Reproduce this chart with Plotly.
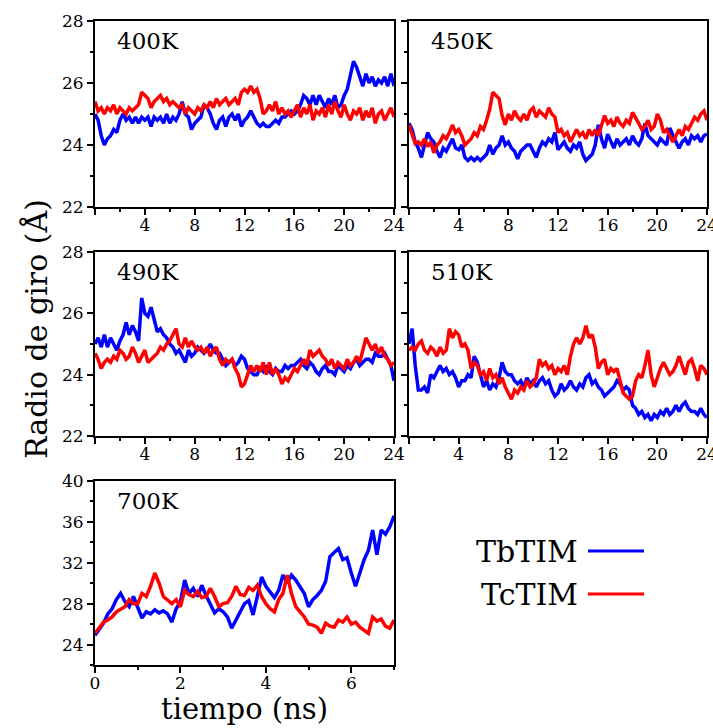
import numpy as np
import plotly.graph_objects as go

# ---------------- data ----------------
time_24 = np.arange(97) * 0.25   # ns, sampling grid for 400K-510K runs
time_7 = np.arange(71) * 0.1     # ns, sampling grid for 700K run

tb_400 = [25.0, 24.8, 24.3, 24.0, 24.2, 24.3, 24.5, 24.4, 24.8, 25.0, 24.8, 24.9,
          24.7, 24.9, 24.7, 24.9, 24.8, 24.9, 24.6, 24.9, 24.8, 24.9, 24.7, 25.0,
          24.7, 24.9, 24.8, 25.0, 25.4, 25.0, 24.9, 24.5, 24.7, 24.8, 24.9, 25.3,
          25.2, 25.0, 24.7, 24.5, 24.8, 24.9, 24.6, 24.9, 25.0, 24.8, 25.0, 24.6,
          24.8, 24.9, 25.1, 24.9, 24.7, 24.6, 24.7, 24.6, 24.6, 24.7, 24.8, 24.7,
          24.9, 24.9, 25.0, 25.1, 25.0, 25.1, 25.3, 25.6, 25.5, 25.3, 25.6, 25.3,
          25.6, 25.4, 25.2, 25.5, 25.3, 25.6, 25.2, 25.3, 25.6, 25.8, 26.3, 26.7,
          26.5, 26.2, 25.9, 26.3, 26.0, 26.2, 25.9, 26.1, 26.0, 26.2, 25.9, 26.3, 25.9]
tc_400 = [25.4, 25.1, 25.2, 25.0, 25.2, 25.1, 25.3, 25.0, 25.2, 25.1, 25.0, 25.2,
          25.1, 25.2, 25.3, 25.7, 25.6, 25.5, 25.2, 25.4, 25.5, 25.6, 25.4, 25.5,
          25.3, 25.4, 25.3, 25.2, 25.3, 25.0, 25.2, 25.1, 25.0, 25.2, 25.1, 25.3,
          25.2, 25.4, 25.2, 25.5, 25.3, 25.4, 25.5, 25.3, 25.4, 25.5, 25.3, 25.7,
          25.8, 25.7, 25.9, 25.7, 25.8, 25.5, 25.0, 25.1, 25.3, 25.1, 25.4, 25.0,
          25.2, 25.0, 25.1, 24.9, 25.1, 25.3, 24.9, 25.2, 25.0, 25.3, 24.8, 25.1,
          25.0, 25.2, 24.9, 25.3, 25.0, 25.4, 25.1, 24.9, 25.3, 25.0, 24.8, 25.1,
          25.0, 25.2, 24.8, 25.1, 24.9, 25.2, 24.7, 25.0, 25.1, 24.8, 25.0, 25.2, 24.9]

tb_450 = [24.7, 24.5, 24.1, 23.9, 23.6, 24.0, 24.4, 24.2, 24.1, 23.8, 23.6, 23.9,
          23.8, 24.0, 24.2, 23.9, 23.85, 24.0, 23.6, 23.5, 23.6, 23.5, 23.6, 23.5,
          23.6, 23.7, 24.0, 23.7, 23.9, 24.0, 24.3, 24.0, 24.1, 23.9, 23.8, 23.55,
          23.8, 23.9, 24.0, 24.0, 23.8, 23.6, 23.9, 24.1, 24.0, 24.2, 24.1, 24.4,
          23.85, 24.0, 24.1, 23.9, 23.8, 24.0, 23.9, 24.1, 23.7, 23.5, 23.6, 23.7,
          24.0, 24.65, 24.2, 23.9, 24.35, 24.1, 23.9, 24.2, 24.0, 24.1, 24.2, 24.0,
          24.3, 24.1, 24.0, 24.2, 24.7, 24.3, 24.2, 24.1, 24.0, 24.2, 24.1, 24.0,
          24.55, 24.3, 24.1, 23.9, 24.1, 24.2, 24.0, 24.3, 24.2, 24.3, 24.1, 24.3, 24.35]
tc_450 = [24.65, 24.3, 24.05, 24.1, 24.0, 24.2, 23.95, 24.1, 23.75, 24.0, 24.1, 24.3,
          24.2, 24.4, 24.65, 24.4, 24.5, 24.3, 24.0, 24.1, 24.2, 24.4, 24.3, 24.6,
          24.5, 24.8, 25.15, 25.7, 25.6, 25.5, 24.95, 24.65, 25.0, 24.8, 25.1, 24.9,
          24.8, 25.0, 24.8, 25.1, 25.2, 24.9, 25.1, 25.0, 24.9, 25.2, 25.0, 24.9,
          24.4, 24.5, 24.3, 24.4, 24.1, 24.3, 24.5, 24.3, 24.4, 24.2, 24.5, 24.3,
          24.5, 24.3, 24.6, 24.95, 24.7, 24.8, 24.6, 24.9, 24.7, 24.6, 24.8, 24.7,
          25.05, 24.9, 24.7, 24.5, 24.6, 24.8, 24.5, 24.6, 25.0, 24.8, 24.4, 24.5,
          24.3, 24.1, 24.3, 24.5, 24.3, 24.6, 24.5, 24.7, 24.9, 24.8, 25.0, 25.1, 24.8]

tb_490 = [25.0, 25.2, 24.9, 25.3, 24.9, 25.2, 25.0, 24.8, 25.1, 25.3, 25.7, 25.3,
          25.6, 25.4, 25.1, 26.5, 26.0, 25.9, 26.2, 25.8, 25.4, 25.5, 25.3, 25.2,
          25.0, 24.9, 24.7, 24.8, 24.6, 24.4, 24.8, 24.6, 24.7, 24.9, 24.8, 24.7,
          24.8, 25.0, 24.8, 24.7, 24.7, 24.5, 24.3, 24.4, 24.5, 24.3, 24.4, 24.6,
          24.5, 24.2, 24.1, 24.0, 24.0, 24.2, 24.1, 24.3, 24.1, 24.0, 24.2, 24.1,
          24.1, 24.3, 24.2, 24.3, 24.3, 24.4, 24.5, 24.3, 24.2, 24.4, 24.3, 24.1,
          24.0, 24.2, 24.3, 24.1, 24.1, 24.0, 24.3, 24.2, 24.1, 24.3, 24.2, 24.4,
          24.5, 24.3, 24.4, 24.5, 24.5, 24.4, 24.7, 24.6, 24.6, 24.7, 24.5, 24.3, 23.8]
tc_490 = [24.7, 24.5, 24.2, 24.4, 24.5, 24.4, 24.6, 24.5, 24.8, 24.7, 24.5, 24.6,
          24.9, 24.7, 24.4, 24.6, 24.8, 24.4, 24.5, 24.6, 24.7, 24.9, 24.8, 25.0,
          25.1, 25.3, 25.5, 25.0, 24.9, 25.2, 24.9, 25.1, 24.9, 24.8, 24.9, 24.7,
          24.9, 24.6, 24.8, 24.9, 24.5, 24.3, 24.5, 24.4, 24.5, 24.2, 24.0, 23.6,
          23.7, 24.0, 24.3, 24.1, 24.3, 24.1, 24.4, 24.0, 24.4, 24.0, 24.2, 24.0,
          23.7, 23.9, 23.8, 24.0, 24.2, 24.1, 24.3, 24.5, 24.3, 24.8, 24.6, 24.7,
          24.8, 24.6, 24.5, 24.3, 24.5, 24.2, 24.4, 24.3, 24.2, 24.5, 24.3, 24.4,
          24.6, 24.4, 24.8, 25.2, 25.0, 24.8, 25.0, 24.7, 24.9, 24.6, 24.5, 24.3, 24.4]

tb_510 = [25.0, 25.5, 24.3, 23.5, 23.5, 23.6, 23.4, 24.0, 23.9, 24.1, 24.3, 24.1,
          24.2, 24.0, 24.1, 23.9, 23.6, 23.8, 23.8, 24.0, 23.9, 24.6, 24.4, 24.0,
          23.6, 23.8, 23.5, 23.7, 23.6, 23.9, 24.4, 24.1, 24.0, 24.0, 23.8, 23.7,
          23.8, 23.6, 23.9, 23.7, 23.8, 23.6, 23.8, 23.9, 23.7, 23.8, 23.5, 23.3,
          23.4, 23.7, 23.5, 23.6, 23.8, 23.6, 23.5, 23.7, 23.6, 23.9, 24.0, 23.7,
          23.8, 23.6, 23.5, 23.3, 23.4, 23.5, 23.6, 23.8, 23.7, 23.5, 23.6, 23.5,
          23.0, 22.9, 22.7, 22.8, 22.6, 22.7, 22.5, 22.7, 22.6, 22.8, 22.7, 22.9,
          22.7, 22.8, 23.0, 22.8, 23.0, 23.1, 22.9, 22.8, 22.8, 22.7, 22.9, 22.7, 22.6]
tc_510 = [24.8, 24.9, 24.8, 25.0, 25.1, 24.8, 24.7, 24.9, 24.8, 24.6, 24.9, 24.7,
          24.8, 25.5, 25.2, 25.4, 25.3, 24.9, 25.0, 24.8, 24.2, 24.4, 24.3, 24.0,
          24.1, 23.8, 24.2, 23.9, 24.0, 23.7, 23.9, 23.6, 23.4, 23.2, 23.5, 23.4,
          23.6, 23.5, 23.8, 23.6, 23.7, 23.9, 24.5, 24.3, 24.4, 24.2, 24.3, 24.0,
          24.2, 24.1, 24.3, 24.0, 24.6, 25.0, 25.2, 25.0, 25.2, 25.6, 25.2, 25.3,
          24.9, 24.2, 24.4, 24.5, 24.0, 24.2, 24.1, 24.2, 23.8, 23.4, 23.3, 23.2,
          23.3, 23.8, 24.0, 23.9, 24.3, 24.8, 24.0, 23.6, 23.9, 24.2, 24.4, 24.2,
          24.0, 24.1, 24.3, 24.6, 24.3, 24.0, 24.4, 24.5, 24.2, 23.8, 24.3, 24.2, 24.0]

tb_700 = [24.9, 25.5, 26.1, 27.0, 27.5, 28.4, 29.0, 28.2, 27.7, 28.7,
          27.7, 26.6, 27.2, 27.0, 27.4, 27.1, 27.3, 27.0, 26.2, 27.5,
          28.2, 30.3, 29.0, 29.5, 28.7, 29.8, 28.8, 28.0, 27.1, 27.5,
          27.2, 26.7, 25.6, 26.4, 27.3, 28.0, 28.3, 26.9, 28.7, 30.6,
          29.7, 29.2, 28.6, 29.3, 30.8, 30.0, 30.8, 30.3, 29.6, 29.0,
          27.7, 28.4, 28.8, 29.3, 30.2, 32.6, 33.0, 33.4, 32.3, 32.5,
          31.0, 29.7, 31.0, 32.3, 33.2, 35.2, 32.8, 35.2, 34.8, 35.5, 36.6]
tc_700 = [25.1, 25.7, 26.2, 26.4, 26.7, 27.2, 27.5, 27.7, 28.4, 28.0,
          28.0, 29.0, 28.7, 29.7, 31.0, 30.0, 28.7, 28.3, 28.0, 28.4,
          27.7, 29.3, 28.9, 28.7, 29.2, 28.6, 28.7, 29.5, 28.7, 27.7,
          28.0, 28.1, 28.7, 29.7, 28.9, 28.8, 29.6, 29.3, 29.8, 28.7,
          28.0, 27.5, 27.2, 28.4, 29.0, 30.8, 29.0, 27.7, 27.2, 26.7,
          26.0, 25.9, 25.7, 25.1, 26.1, 25.8, 25.7, 26.4, 26.2, 26.7,
          26.0, 26.2, 25.7, 25.4, 25.1, 26.7, 26.3, 26.5, 25.8, 25.6, 26.4]

panel_labels = ["400K", "450K", "490K", "510K", "700K"]
series_names = ["TbTIM", "TcTIM"]
x_ticks_24 = [0, 4, 8, 12, 16, 20, 24]
x_ticktext_24 = ["", "4", "8", "12", "16", "20", "24"]
x_minor_24 = [2, 6, 10, 14, 18, 22]
x_ticks_7 = [0, 2, 4, 6]
x_minor_7 = [1, 3, 5, 7]
y_ticks_small = [22, 24, 26, 28]
y_minor_small = [23, 25, 27]
y_ticks_700 = [24, 28, 32, 36, 40]
y_minor_700 = [22, 26, 30, 34, 38]

# ---------------- layout geometry ----------------
W, H = 713, 728
FONT = "DejaVu Serif"
BLUE, RED = "#0000ff", "#ff0000"

def px_x(p):
    return p / W

def px_y(p):
    return 1 - p / H

cols = [(95, 394), (409, 707)]
rows = [(21, 207), (252, 436), (481, 665)]

panels = [
    dict(label=panel_labels[0], col=0, row=0, t=time_24, b=tb_400, c=tc_400, long=True, ylab=True),
    dict(label=panel_labels[1], col=1, row=0, t=time_24, b=tb_450, c=tc_450, long=True, ylab=False),
    dict(label=panel_labels[2], col=0, row=1, t=time_24, b=tb_490, c=tc_490, long=True, ylab=True),
    dict(label=panel_labels[3], col=1, row=1, t=time_24, b=tb_510, c=tc_510, long=True, ylab=False),
    dict(label=panel_labels[4], col=0, row=2, t=time_7, b=tb_700, c=tc_700, long=False, ylab=True),
]

fig = go.Figure()
layout = dict(
    width=W, height=H,
    margin=dict(l=0, r=0, t=0, b=0),
    paper_bgcolor="white", plot_bgcolor="white",
    showlegend=False,
    font=dict(family=FONT, size=17, color="black"),
)
annotations = []

for i, p in enumerate(panels, start=1):
    xa = "x" if i == 1 else f"x{i}"
    ya = "y" if i == 1 else f"y{i}"
    xkey = "xaxis" if i == 1 else f"xaxis{i}"
    ykey = "yaxis" if i == 1 else f"yaxis{i}"
    c0, c1 = cols[p["col"]]
    r0, r1 = rows[p["row"]]
    common = dict(showgrid=False, zeroline=False, showline=True, mirror=True,
                  linecolor="black", linewidth=2, ticks="outside", ticklen=6,
                  tickwidth=1.5, tickcolor="black", automargin=False,
                  ticklabeloverflow="allow",
                  tickfont=dict(family=FONT, size=17, color="black"))
    if p["long"]:
        xax = dict(range=[0, 24], tickmode="array", tickvals=x_ticks_24, ticktext=x_ticktext_24,
                   minor=dict(tickmode="array", tickvals=x_minor_24, ticks="outside",
                              ticklen=3, tickwidth=1.5, tickcolor="black"))
        yax = dict(range=[22, 28], tickmode="array", tickvals=y_ticks_small,
                   minor=dict(tickmode="array", tickvals=y_minor_small, ticks="outside",
                              ticklen=3, tickwidth=1.5, tickcolor="black"))
    else:
        xax = dict(range=[0, 7], tickmode="array", tickvals=x_ticks_7,
                   minor=dict(tickmode="array", tickvals=x_minor_7, ticks="outside",
                              ticklen=3, tickwidth=1.5, tickcolor="black"))
        yax = dict(range=[22, 40], tickmode="array", tickvals=y_ticks_700,
                   minor=dict(tickmode="array", tickvals=y_minor_700, ticks="outside",
                              ticklen=3, tickwidth=1.5, tickcolor="black"))
    xax.update(common)
    yax.update(common)
    xax.update(domain=[px_x(c0), px_x(c1)], anchor=ya, ticklabelstandoff=-4)
    yax.update(domain=[px_y(r1), px_y(r0)], anchor=xa)
    if not p["ylab"]:
        yax.update(showticklabels=False)
    layout[xkey] = xax
    layout[ykey] = yax

    fig.add_trace(go.Scatter(x=p["t"], y=p["b"], mode="lines", name=series_names[0],
                             line=dict(color=BLUE, width=3.5), xaxis=xa, yaxis=ya))
    fig.add_trace(go.Scatter(x=p["t"], y=p["c"], mode="lines", name=series_names[1],
                             line=dict(color=RED, width=3.5), xaxis=xa, yaxis=ya))

    annotations.append(dict(text=p["label"], xref=f"{xa} domain", yref=f"{ya} domain",
                            x=20 / (c1 - c0), y=1 - 20 / (r1 - r0),
                            xanchor="left", yanchor="middle", showarrow=False,
                            font=dict(family=FONT, size=23, color="black")))

# axis titles
annotations.append(dict(text="tiempo (ns)", xref="paper", yref="paper",
                        x=px_x(244), y=0, xanchor="center", yanchor="bottom",
                        showarrow=False, font=dict(family=FONT, size=29, color="black")))
annotations.append(dict(text="Radio de giro (Å)", xref="paper", yref="paper",
                        x=px_x(37), y=px_y(329), xanchor="center", yanchor="middle",
                        textangle=-90, showarrow=False,
                        font=dict(family=FONT, size=30, color="black")))

# legend (text followed by line sample)
legend_rows = [(series_names[0], BLUE, 551), (series_names[1], RED, 594)]
shapes = []
for name, color, yc in legend_rows:
    annotations.append(dict(text=name, xref="paper", yref="paper",
                            x=px_x(580), y=px_y(yc), xanchor="right", yanchor="middle",
                            showarrow=False, font=dict(family=FONT, size=30, color="black")))
    shapes.append(dict(type="line", xref="paper", yref="paper",
                       x0=px_x(588), x1=px_x(644), y0=px_y(yc), y1=px_y(yc),
                       line=dict(color=color, width=3)))

layout["annotations"] = annotations
layout["shapes"] = shapes
fig.update_layout(**layout)
fig.write_html("out.html")
